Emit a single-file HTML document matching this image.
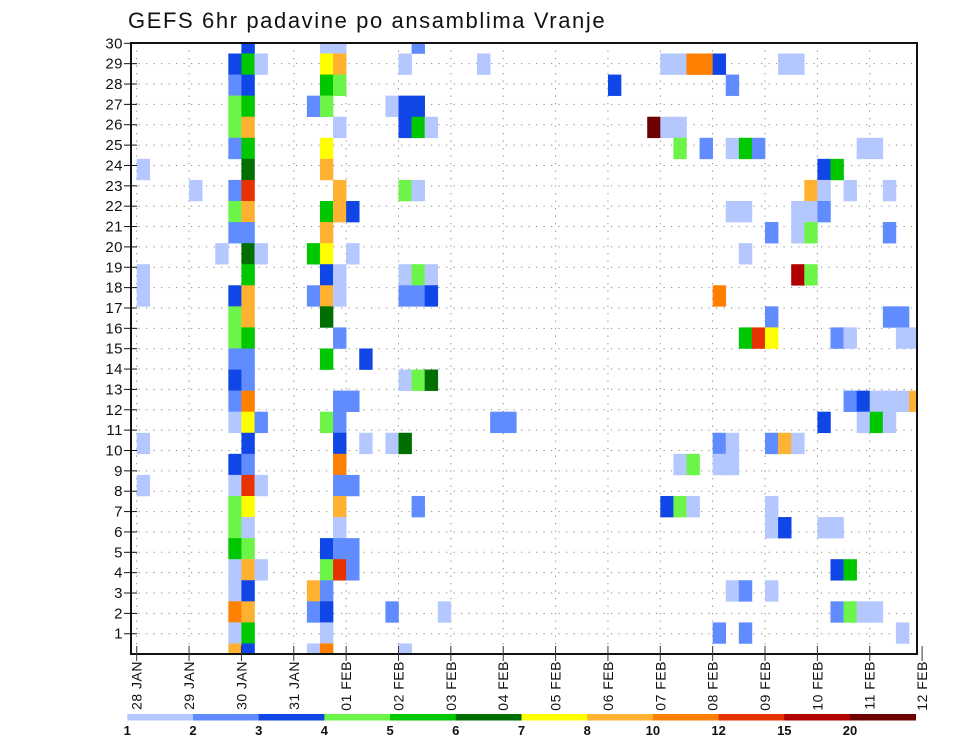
<!DOCTYPE html>
<html><head><meta charset="utf-8"><title>GEFS 6hr padavine</title>
<style>
html,body{margin:0;padding:0;background:#fff;}
svg{display:block;font-family:"Liberation Sans",sans-serif;}
</style></head>
<body>
<svg id="chart" width="960" height="742" viewBox="0 0 960 742" xmlns="http://www.w3.org/2000/svg">
<defs><clipPath id="plotclip"><rect x="131" y="43" width="786" height="611"/></clipPath></defs>
<text x="128" y="28" font-size="22" letter-spacing="1.6" fill="#111">GEFS 6hr padavine po ansamblima Vranje</text>
<g id="grid"></g>
<g id="cells" clip-path="url(#plotclip)"></g>
<rect x="131" y="43" width="786" height="611" fill="none" stroke="#111" stroke-width="2"/>
<g id="yaxis"></g>
<g id="xaxis"></g>
<g id="legend"></g>
</svg>
<script>
const dayLabels = ["28 JAN","29 JAN","30 JAN","31 JAN","01 FEB","02 FEB","03 FEB","04 FEB","05 FEB","06 FEB","07 FEB","08 FEB","09 FEB","10 FEB","11 FEB","12 FEB"];
const yTickLabels = [1,2,3,4,5,6,7,8,9,10,11,12,13,14,15,16,17,18,19,20,21,22,23,24,25,26,27,28,29,30];
const levelLabels = ["1","2","3","4","5","6","7","8","10","12","15","20"];
const levelColors = ["#b4c8ff","#608cff","#1046e6","#6cf548","#00c800","#006e00","#ffff00","#ffb232","#ff8000","#e63200","#b00000","#6e0000"];
const cells = [
[8,30,3],[14,30,1],[15,30,1],[21,30,2],
[7,29,3],[8,29,5],[9,29,1],[14,29,7],[15,29,8],[20,29,1],[26,29,1],[40,29,1],[41,29,1],[42,29,9],[43,29,9],[44,29,3],[49,29,1],[50,29,1],
[7,28,2],[8,28,3],[14,28,5],[15,28,4],[36,28,3],[45,28,2],
[7,27,4],[8,27,5],[13,27,2],[14,27,4],[19,27,1],[20,27,3],[21,27,3],
[7,26,4],[8,26,8],[15,26,1],[20,26,3],[21,26,5],[22,26,1],[39,26,12],[40,26,1],[41,26,1],
[7,25,2],[8,25,5],[14,25,7],[41,25,4],[43,25,2],[45,25,1],[46,25,5],[47,25,2],[55,25,1],[56,25,1],
[0,24,1],[8,24,6],[14,24,8],[52,24,3],[53,24,5],
[4,23,1],[7,23,2],[8,23,10],[15,23,8],[20,23,4],[21,23,1],[51,23,8],[52,23,1],[54,23,1],[57,23,1],
[7,22,4],[8,22,8],[14,22,5],[15,22,8],[16,22,3],[45,22,1],[46,22,1],[50,22,1],[51,22,1],[52,22,2],
[7,21,2],[8,21,2],[14,21,8],[48,21,2],[50,21,1],[51,21,4],[57,21,2],
[6,20,1],[8,20,6],[9,20,1],[13,20,5],[14,20,7],[16,20,1],[46,20,1],
[0,19,1],[8,19,5],[14,19,3],[15,19,1],[20,19,1],[21,19,4],[22,19,1],[50,19,11],[51,19,4],
[0,18,1],[7,18,3],[8,18,8],[13,18,2],[14,18,8],[15,18,1],[20,18,2],[21,18,2],[22,18,3],[44,18,9],
[7,17,4],[8,17,8],[14,17,6],[48,17,2],[57,17,2],[58,17,2],
[7,16,4],[8,16,5],[15,16,2],[46,16,5],[47,16,10],[48,16,7],[53,16,2],[54,16,1],[58,16,1],[59,16,1],
[7,15,2],[8,15,2],[14,15,5],[17,15,3],
[7,14,3],[8,14,2],[20,14,1],[21,14,4],[22,14,6],
[7,13,2],[8,13,9],[15,13,2],[16,13,2],[54,13,2],[55,13,3],[56,13,1],[57,13,1],[58,13,1],[59,13,8],
[7,12,1],[8,12,7],[9,12,2],[14,12,4],[15,12,2],[27,12,2],[28,12,2],[52,12,3],[55,12,1],[56,12,5],[57,12,1],
[0,11,1],[8,11,3],[15,11,3],[17,11,1],[19,11,1],[20,11,6],[44,11,2],[45,11,1],[48,11,2],[49,11,8],[50,11,1],
[7,10,3],[8,10,2],[15,10,9],[41,10,1],[42,10,4],[44,10,1],[45,10,1],
[0,9,1],[7,9,1],[8,9,10],[9,9,1],[15,9,2],[16,9,2],
[7,8,4],[8,8,7],[15,8,8],[21,8,2],[40,8,3],[41,8,4],[42,8,1],[48,8,1],
[7,7,4],[8,7,1],[15,7,1],[48,7,1],[49,7,3],[52,7,1],[53,7,1],
[7,6,5],[8,6,4],[14,6,3],[15,6,2],[16,6,2],
[7,5,1],[8,5,8],[9,5,1],[14,5,4],[15,5,10],[16,5,2],[53,5,3],[54,5,5],
[7,4,1],[8,4,3],[13,4,8],[14,4,2],[45,4,1],[46,4,2],[48,4,1],
[7,3,9],[8,3,8],[13,3,2],[14,3,3],[19,3,2],[23,3,1],[53,3,2],[54,3,4],[55,3,1],[56,3,1],
[7,2,1],[8,2,5],[14,2,1],[44,2,2],[46,2,2],[58,2,1],
[7,1,8],[8,1,3],[13,1,1],[14,1,9],[20,1,1]
];

const NS="http://www.w3.org/2000/svg";
function mk(tag, attrs, parent){const e=document.createElementNS(NS,tag);for(const k in attrs)e.setAttribute(k,attrs[k]);parent.appendChild(e);return e;}
const X0=136.7, DAY=52.36, COLW=DAY/4;
function xDay(i){return X0+i*DAY;}
function xCol(c){return X0+c*COLW;}
const CELLH=21.07;
function yCellTop(r){return 53.5+(29-r)*CELLH;}
function yTick(v){return 43.3+(30-v)*20.36;}

const grid=document.getElementById('grid');
yTickLabels.forEach(v=>{
  const l=mk('line',{x1:131,x2:917,y1:yTick(v),y2:yTick(v),stroke:'#888','stroke-width':1,'stroke-dasharray':'1.2,6.3'},grid);
  
  
});
dayLabels.forEach((d,i)=>{
  const x=xDay(i); if(x>917) return;
  const l=mk('line',{x1:x,x2:x,y1:43,y2:654,stroke:'#888','stroke-width':1,'stroke-dasharray':'1.2,6.3'},grid);
  
  
});

const cg=document.getElementById('cells');
const cellCol=cells.map(c=>c[0]), cellRow=cells.map(c=>c[1]), cellLevel=cells.map(c=>c[2]);
for(let i=0;i<cellCol.length;i++){
  const r=mk('rect',{x:xCol(cellCol[i]),y:yCellTop(cellRow[i]),width:COLW+0.3,height:CELLH+0.3,fill:levelColors[cellLevel[i]-1]},cg);
  
  
}

const ya=document.getElementById('yaxis');
yTickLabels.forEach(v=>{
  const y=yTick(v);
  const t=mk('line',{x1:124,x2:137,y1:y,y2:y,stroke:'#111','stroke-width':1},ya);
  
  
  const tx=mk('text',{x:123,y:y+5,'text-anchor':'end','font-size':15,'letter-spacing':0.5,fill:'#111'},ya);
  tx.textContent=v;
  
  
});

const xa=document.getElementById('xaxis');
dayLabels.forEach((d,i)=>{
  const x=xDay(i);
  const t=mk('line',{x1:x,x2:x,y1:646,y2:661,stroke:'#333','stroke-width':1},xa);
  
  
  const tx=mk('text',{x:0,y:0,'text-anchor':'end','font-size':14,'letter-spacing':0.5,fill:'#111',transform:'translate('+(x+5)+',661) rotate(-90)'},xa);
  tx.textContent=d;
  
  
});

const lg=document.getElementById('legend');
const LX=127.3, LW=65.7;
levelColors.forEach((c,i)=>{
  const r=mk('rect',{x:LX+i*LW,y:714,width:LW+0.3,height:6.5,fill:c},lg);
  
  
  const t=mk('text',{x:LX+i*LW,y:735,'text-anchor':'middle','font-size':13,'font-weight':'bold',fill:'#111'},lg);
  t.textContent=levelLabels[i];
  
  
});
</script>
</body></html>
